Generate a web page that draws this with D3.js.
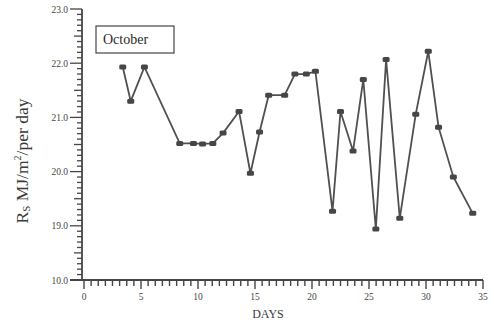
<!DOCTYPE html>
<html>
<head>
<meta charset="utf-8">
<script src="https://cdn.jsdelivr.net/npm/d3@7"></script>
<style>
  body { margin: 0; background: #fff; }
  svg { display: block; font-family: "Liberation Serif", "DejaVu Serif", serif; }
</style>
</head>
<body>
<svg id="chart"></svg>
<script>
// days and daily solar radiation (Rs, MJ/m2/per day) for October
const days = [3.4, 4.1, 5.3, 8.4, 9.6, 10.4, 11.3, 12.2, 13.6, 14.6, 15.4, 16.2, 17.6, 18.5,
              19.5, 20.3, 21.8, 22.5, 23.6, 24.5, 25.6, 26.5, 27.7, 29.1, 30.2, 31.1, 32.4, 34.1];
const rs = [21.93, 21.30, 21.93, 20.52, 20.52, 20.51, 20.52, 20.71, 21.11, 19.97, 20.73, 21.41, 21.41, 21.80,
            21.80, 21.85, 19.27, 21.11, 20.38, 21.70, 18.94, 22.07, 19.14, 21.06, 22.22, 20.82, 19.90, 19.23];
const xTicks = [0, 5, 10, 15, 20, 25, 30, 35];
const yTicks = [18, 19, 20, 21, 22, 23];
const yTickLabels = ["10.0", "19.0", "20.0", "21.0", "22.0", "23.0"];
const legendLabel = "October";

const width = 494, height = 324;
const ink = "#454545";

const svg = d3.select("#chart").attr("width", width).attr("height", height);

const x = d3.scaleLinear().domain([0, 35]).range([84, 483]);
const y = d3.scaleLinear().domain([18, 23]).range([280, 9]);
const axisX = 82;

// x axis
const xMinor = d3.range(0, 35.001, 0.625);
const xg = svg.append("g").attr("transform", `translate(0, ${y(18)})`);
xg.append("line").attr("x1", axisX - 12).attr("x2", x(35)).attr("stroke", ink).attr("stroke-width", 1.8);
xg.selectAll(".minor").data(xMinor).enter().append("line")
    .attr("x1", d => x(d)).attr("x2", d => x(d))
    .attr("y1", 0).attr("y2", d => xTicks.includes(d) ? 9 : 6)
    .attr("stroke", ink).attr("stroke-width", 1.4);
xg.selectAll("text").data(xTicks).enter().append("text")
    .attr("x", d => x(d)).attr("y", 20)
    .attr("text-anchor", "middle").attr("font-size", 9.5).attr("fill", ink)
    .text(d => d);

// y axis
const yMinor = d3.range(18, 23.001, 0.1).map(d => Math.round(d * 10) / 10);
const yg = svg.append("g").attr("transform", `translate(${axisX}, 0)`);
yg.append("line").attr("y1", y(23)).attr("y2", y(18)).attr("stroke", ink).attr("stroke-width", 1.8);
yg.selectAll(".minor").data(yMinor).enter().append("line")
    .attr("y1", d => y(d)).attr("y2", d => y(d))
    .attr("x1", d => Number.isInteger(d) ? -12 : (Math.abs(d % 1 - 0.5) < 0.01 ? -8 : -5)).attr("x2", 0)
    .attr("stroke", ink).attr("stroke-width", 1.3);
yg.selectAll("text").data(yTicks).enter().append("text")
    .attr("x", -14).attr("y", d => y(d) + 3.5)
    .attr("text-anchor", "end").attr("font-size", 9.5).attr("fill", ink)
    .text((d, i) => yTickLabels[i]);

// axis titles
svg.append("text").attr("x", 268).attr("y", 318)
    .attr("text-anchor", "middle").attr("font-size", 12).attr("fill", "#3a3a3a").text("DAYS");
svg.append("text")
    .attr("transform", "translate(28, 161) rotate(-90)")
    .attr("text-anchor", "middle").attr("font-size", 17.5).attr("fill", "#3a3a3a")
    .html('R<tspan font-size="11" dy="2">S</tspan><tspan dy="-2"> MJ/m</tspan><tspan font-size="10" dy="-7">2</tspan><tspan dy="7">/per day</tspan>');

// legend box
svg.append("rect").attr("x", 96).attr("y", 26).attr("width", 78).attr("height", 27)
    .attr("fill", "none").attr("stroke", ink).attr("stroke-width", 1.2);
svg.append("text").attr("x", 103).attr("y", 44).attr("font-size", 14).attr("fill", "#2a2a2a").text(legendLabel);

// series
const pts = days.map((d, i) => ({ x: d, y: rs[i] }));
const line = d3.line().x(d => x(d.x)).y(d => y(d.y));
svg.append("path").attr("d", line(pts))
    .attr("fill", "none").attr("stroke", "#505050").attr("stroke-width", 1.8);
svg.selectAll(".pt").data(pts).enter().append("rect")
    .attr("x", d => x(d.x) - 3.5).attr("y", d => y(d.y) - 2.5)
    .attr("width", 7).attr("height", 5).attr("rx", 1.5)
    .attr("fill", "#464646");
</script>
</body>
</html>
